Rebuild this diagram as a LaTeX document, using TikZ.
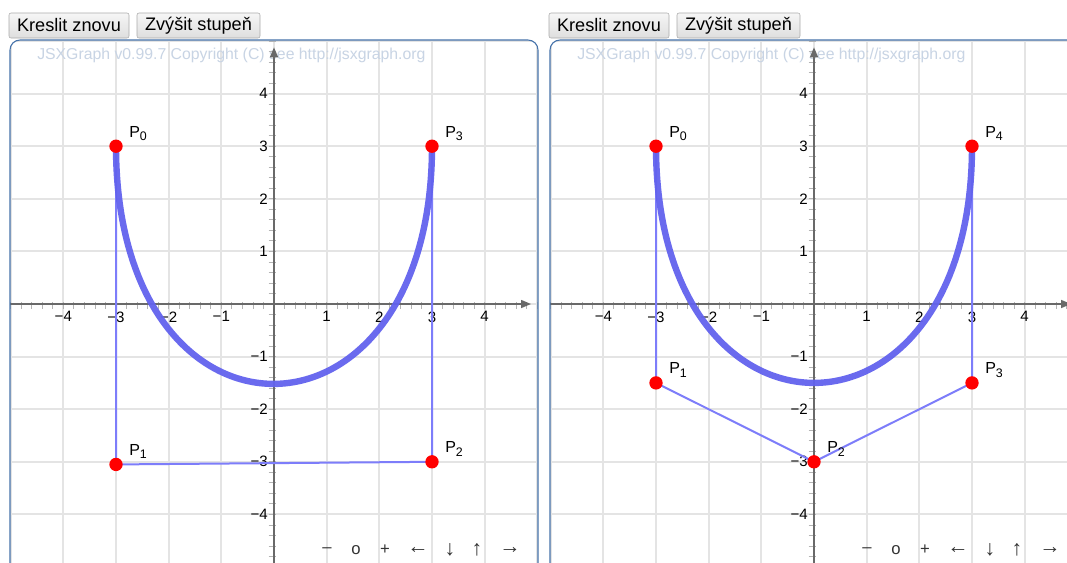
\documentclass[tikz,border=0pt]{standalone}
\usepackage{fontspec}
\setmainfont{Liberation Sans}
\usetikzlibrary{arrows.meta,calc}
\definecolor{gridc}{RGB}{228,228,228}
\definecolor{tickc}{RGB}{180,180,180}
\definecolor{axisc}{RGB}{105,105,105}
\definecolor{curvec}{RGB}{98,98,238}
\definecolor{polyc}{RGB}{125,125,250}
\definecolor{framec}{RGB}{70,115,170}
\definecolor{wmc}{RGB}{200,212,228}
\definecolor{btnborder}{RGB}{170,170,170}
\definecolor{btntop}{RGB}{246,246,246}
\definecolor{btnbot}{RGB}{222,222,222}
\definecolor{ptc}{RGB}{255,0,0}
\newcommand\Psub[1]{P\raisebox{-0.42ex}{\fontsize{9.3}{9.3}\selectfont #1}}
\tikzset{
  btn/.style={draw=btnborder, rounded corners=1.5pt, top color=btntop, bottom color=btnbot,
    minimum height=18.75pt, inner sep=0pt, font=\fontsize{13.6}{13.6}\selectfont, text=black},
  gridline/.style={draw=gridc, line width=1.4pt},
  tickline/.style={draw=tickc, line width=0.6pt},
  axisline/.style={draw=axisc, line width=1.1pt, -{Triangle[length=7.5pt,width=6pt]}},
  xlab/.style={anchor=north, yshift=-5.5pt, inner sep=0pt, font=\fontsize{11.3}{11.3}\selectfont},
  ylab/.style={anchor=east, xshift=-4.5pt, inner sep=0pt, font=\fontsize{11.3}{11.3}\selectfont},
  wm/.style={anchor=west, inner sep=0pt, text=wmc, font=\fontsize{11.85}{11.85}\selectfont},
  nav/.style={inner sep=0pt, text=black!80, font=\fontsize{12.5}{12.5}\selectfont},
  navarrow/.style={nav, font=\fontsize{16}{16}\selectfont},
  polyline/.style={draw=polyc, line width=1.5pt},
  curveline/.style={draw=curvec, line width=4.8pt, opacity=0.95},
  ptdot/.style={circle, fill=ptc, inner sep=0pt, minimum size=10pt},
  plab/.style={anchor=base west, inner sep=0pt, xshift=9.75pt, yshift=6.75pt, font=\fontsize{12}{12}\selectfont},
  framel/.style={draw=framec, line width=0.8pt, rounded corners=7.5pt}
}
\newcommand\panelbase[2]{%
 \begin{scope}[xshift=#1*0.75pt]
  \node[btn, minimum width=90pt] (#2b1) at (69,25.5) {Kreslit znovu};
  \node[btn, minimum width=92.25pt] (#2b2) at (198.5,25.5) {Zvýšit stupeň};
  \begin{scope}
   \clip[rounded corners=7.5pt] (10,40) rectangle (538,640);
   \begin{scope}[shift={(274,304)}, x=39.5pt, y=39.45pt]
     \foreach \i in {-5,...,5} {
       \draw[gridline] (\i,-6) -- (\i,6);
       \draw[gridline] (-6,\i) -- (6,\i);
     }
   \end{scope}
   \node[wm] (#2wm) at (37,55) {JSXGraph v0.99.7 Copyright (C) see http://jsxgraph.org};
   \begin{scope}[shift={(274,304)}, x=39.5pt, y=39.45pt]
     \foreach \k in {-26,...,26} {
       \draw[tickline] ({\k/5},0.03) -- ({\k/5},-0.1);
       \draw[tickline] (-0.1,{\k/5}) -- (0.03,{\k/5});
     }
     \draw[axisline] (-5.3,0) -- (4.88,0);
     \draw[axisline] (0,-5.3) -- (0,4.88);
     \foreach \v/\t in {-4/−4,-3/−3,-2/−2,-1/−1,1/1,2/2,3/3,4/4} {
       \node[xlab] (#2x\v) at (\v,0) {\t};
       \node[ylab] (#2y\v) at (0,\v) {\t};
     }
   \end{scope}
  \end{scope}
  \draw[framel] (10,640) -- (10,40) -- (538,40) -- (538,640);
  \node[nav] (#2n1) at (327,550) {–};
  \node[nav] (#2n2) at (356,550) {o};
  \node[nav] (#2n3) at (385,550) {+};
  \node[navarrow] (#2n4) at (418,550) {←};
  \node[navarrow] (#2n5) at (450,550) {↓};
  \node[navarrow] (#2n6) at (477,550) {↑};
  \node[navarrow] (#2n7) at (510,550) {→};
 \end{scope}
}
\begin{document}
\begin{tikzpicture}[x=0.75pt,y=-0.75pt]
\clip (0,0) rectangle (1067,562);
\fill[white] (0,0) rectangle (1067,562);
\panelbase{0}{A}
\panelbase{540}{B}
% left panel: cubic
\begin{scope}[shift={(274,304)}, x=39.5pt, y=39.45pt]
  \coordinate (L0) at (-3,3);
  \coordinate (L1) at (-3,-3.05);
  \coordinate (L2) at (3,-3);
  \coordinate (L3) at (3,3);
  \draw[polyline] (L0) -- (L1) -- (L2) -- (L3);
  \draw[curveline] (L0) .. controls (L1) and (L2) .. (L3);
  \foreach \n in {0,1,2,3} {
    \node[ptdot] (L\n d) at (L\n) {};
    \node[plab] (L\n l) at (L\n) {\Psub{\n}};
  }
\end{scope}
% right panel: quartic (same curve after degree elevation)
\begin{scope}[shift={(814,304)}, x=39.5pt, y=39.45pt]
  \coordinate (R0) at (-3,3);
  \coordinate (R1) at (-3,-1.5);
  \coordinate (R2) at (0,-3);
  \coordinate (R3) at (3,-1.5);
  \coordinate (R4) at (3,3);
  \draw[polyline] (R0) -- (R1) -- (R2) -- (R3) -- (R4);
  \draw[curveline] (R0) .. controls ($(R0)!4/3!(R1)$) and ($(R4)!4/3!(R3)$) .. (R4);
  \foreach \n in {0,1,2,3,4} {
    \node[ptdot] (R\n d) at (R\n) {};
    \node[plab] (R\n l) at (R\n) {\Psub{\n}};
  }
\end{scope}
\end{tikzpicture}
\end{document}
